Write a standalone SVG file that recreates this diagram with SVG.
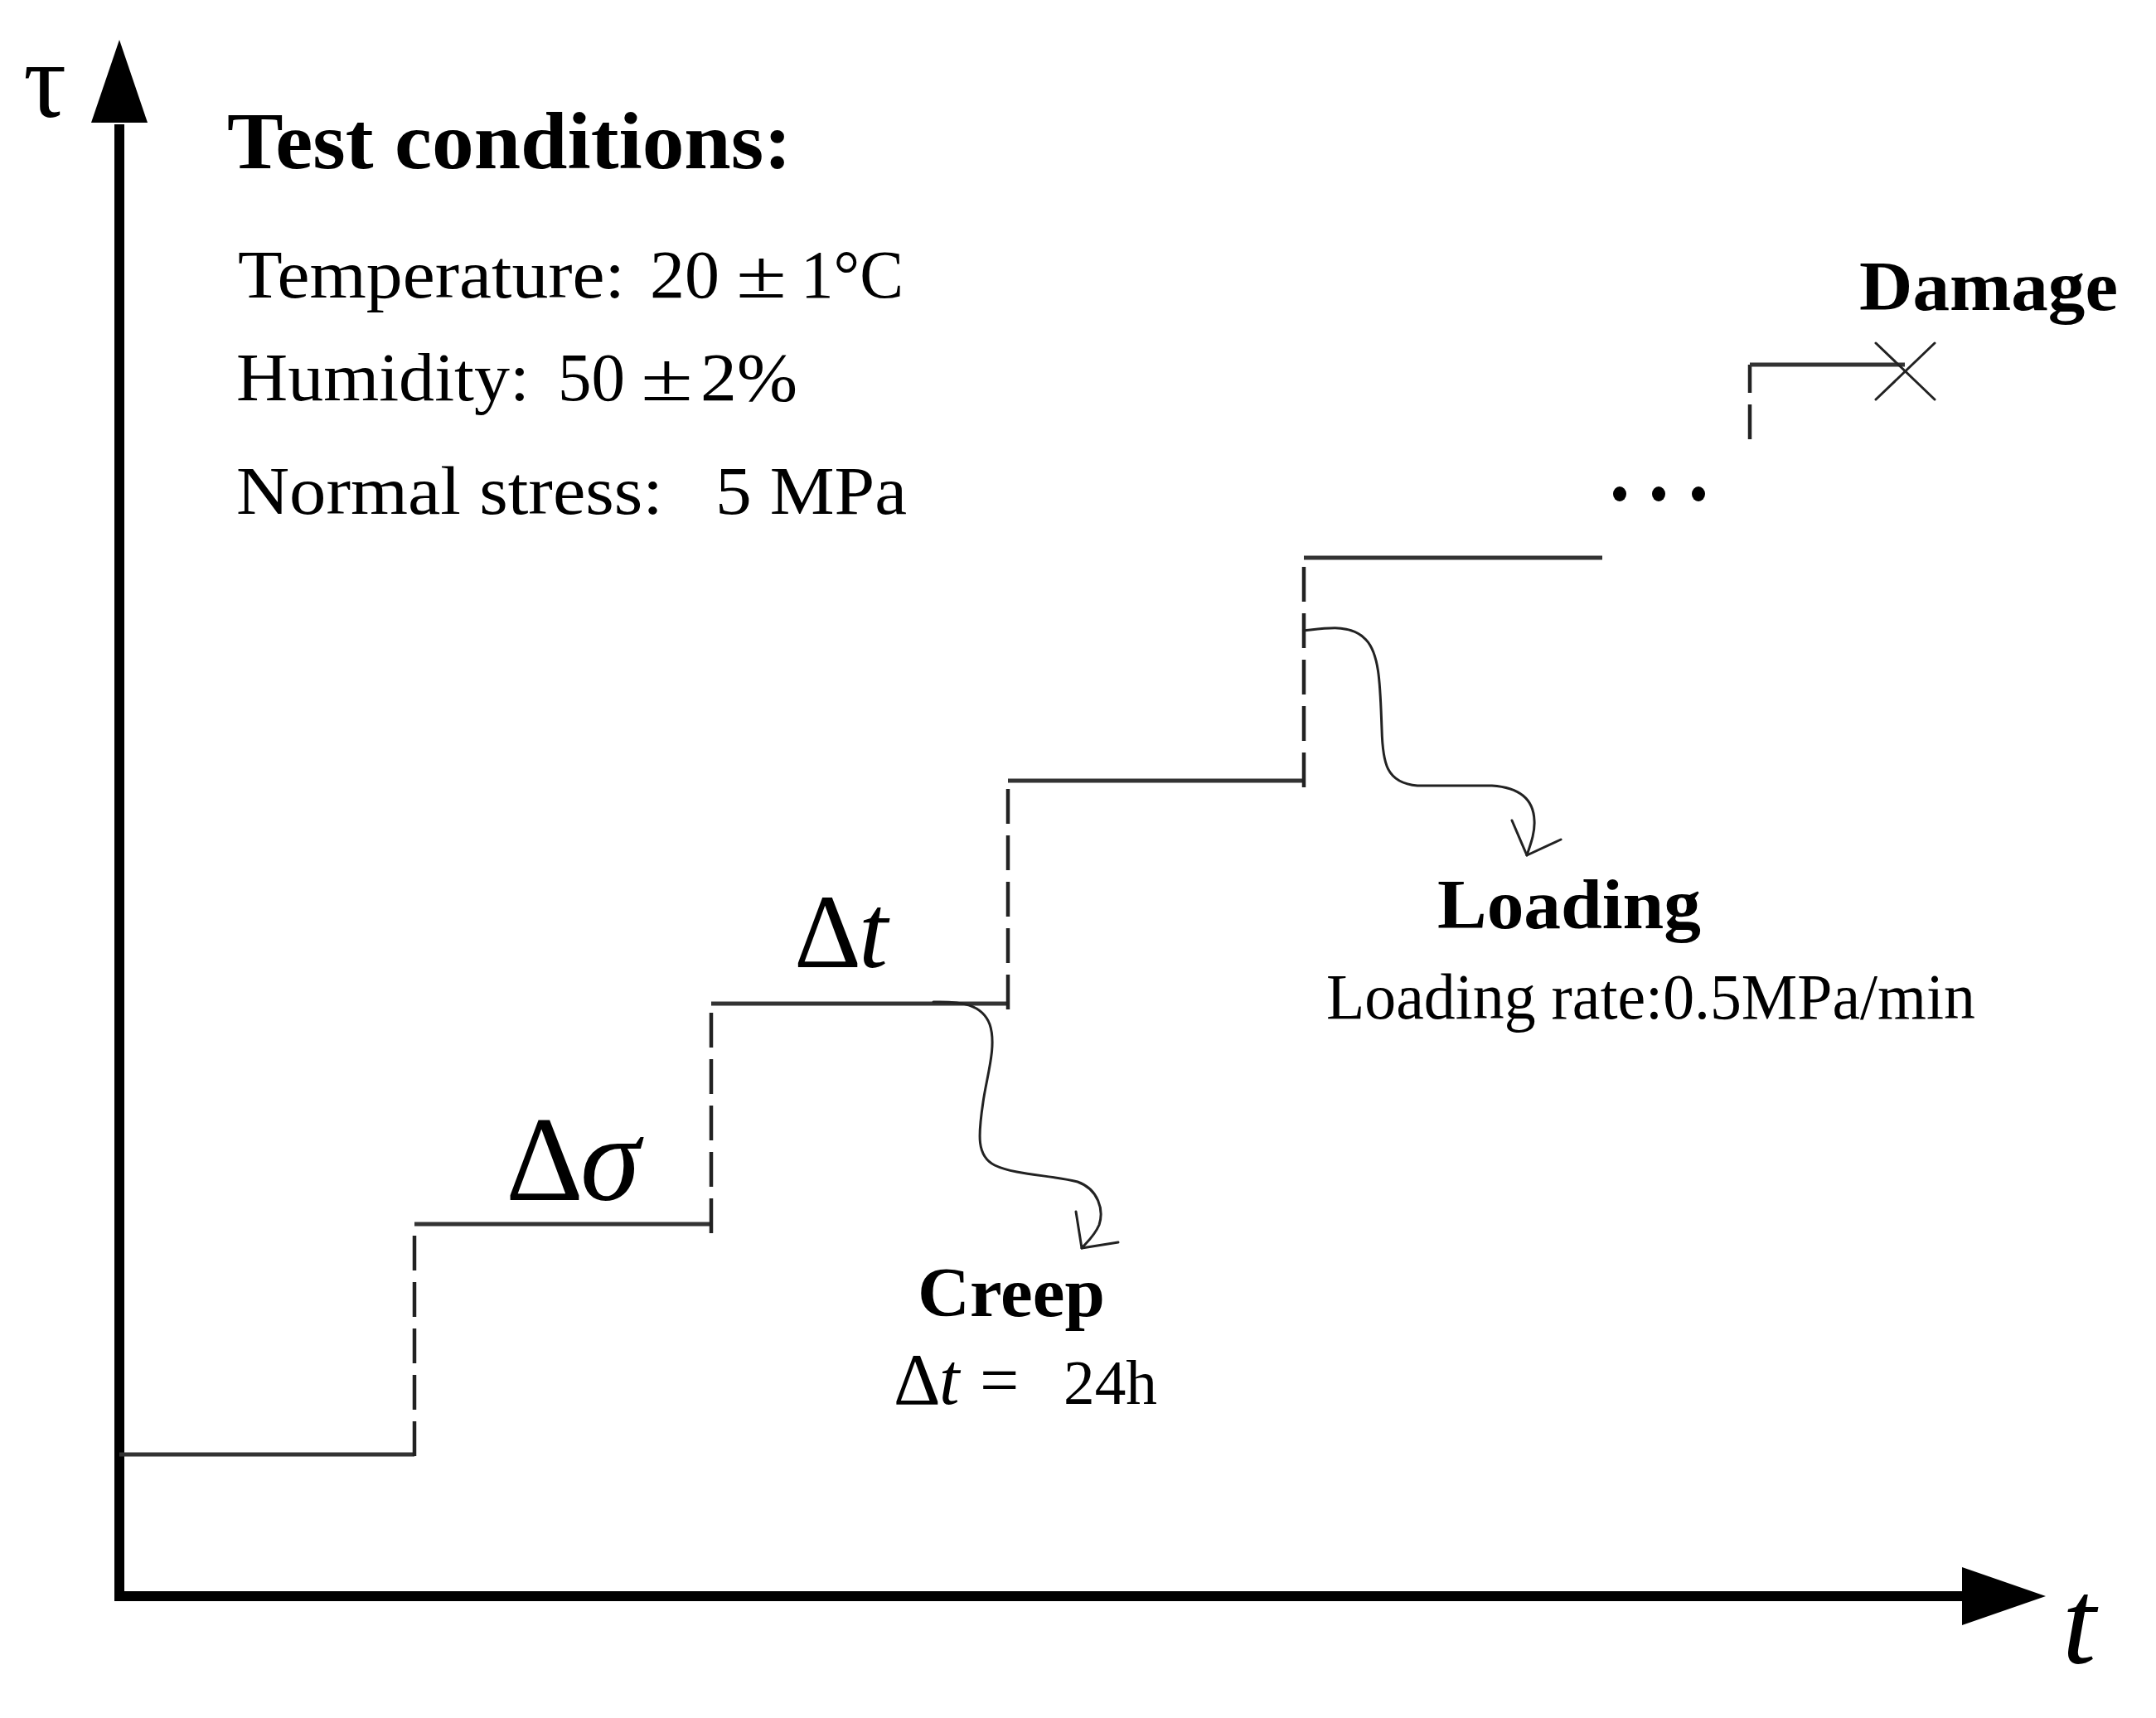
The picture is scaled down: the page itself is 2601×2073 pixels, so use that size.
<svg xmlns="http://www.w3.org/2000/svg" width="2601" height="2073" viewBox="0 0 2601 2073">
<style>
  .serif { font-family: "Liberation Serif", "Times New Roman", serif; fill: #000; }
  .bold { font-weight: bold; }
  .it { font-style: italic; }
  .step { fill: none; stroke: #333; stroke-width: 5; }
  .dash { fill: none; stroke: #222; stroke-width: 4.5; stroke-dasharray: 42 14; }
  .thin { fill: none; stroke: #222; stroke-width: 3; stroke-linecap: round; stroke-linejoin: round; }
</style>
<rect x="0" y="0" width="2601" height="2073" fill="#fff"/>

<g id="axes">
  <line x1="144" y1="150" x2="144" y2="1932" stroke="#000" stroke-width="12"/>
  <polygon points="144,48 110,148 178,148" fill="#000"/>
  <line x1="138" y1="1926" x2="2372" y2="1926" stroke="#000" stroke-width="12"/>
  <polygon points="2468,1926 2367,1891 2367,1961" fill="#000"/>
  <text class="serif" x="28" y="141" font-size="130">τ</text>
  <text class="serif it" x="2488" y="2007" font-size="146">t</text>
</g>

<g id="steps">
  <polyline class="step" points="144,1755 500,1755"/>
  <line class="dash" x1="500" y1="1757" x2="500" y2="1477"/>
  <polyline class="step" points="500,1477 858,1477"/>
  <line class="dash" x1="858" y1="1488" x2="858" y2="1211"/>
  <polyline class="step" points="858,1211 1216,1211"/>
  <line class="dash" x1="1216" y1="1218" x2="1216" y2="942"/>
  <polyline class="step" points="1216,942 1573,942"/>
  <line class="dash" x1="1573" y1="950" x2="1573" y2="673"/>
  <polyline class="step" points="1573,673 1933,673"/>
  <line class="dash" x1="2111" y1="530" x2="2111" y2="440"/>
  <polyline class="step" points="2111,440 2298,440"/>
  <g id="damage-mark">
    <line class="thin" x1="2263" y1="414" x2="2334" y2="482"/>
    <line class="thin" x1="2334" y1="414" x2="2263" y2="482"/>
  </g>
  <g id="ellipsis">
    <ellipse cx="1954" cy="596" rx="8" ry="9" fill="#000"/>
    <ellipse cx="2001" cy="596" rx="8" ry="9" fill="#000"/>
    <ellipse cx="2049" cy="596" rx="8" ry="9" fill="#000"/>
  </g>
</g>

<g id="connectors">
  <path class="thin" d="M1126,1209 C1160,1208 1185,1212 1194,1236 C1203,1262 1190,1300 1186,1330 C1180,1370 1178,1395 1200,1406 C1225,1418 1270,1418 1300,1426 C1325,1435 1332,1460 1326,1478 C1320,1492 1310,1500 1305,1506"/>
  <polyline class="thin" points="1298,1462 1305,1506 1349,1499"/>
  <path class="thin" d="M1573,761 C1600,758 1630,752 1648,772 C1665,790 1665,830 1667,880 C1668,920 1672,945 1710,948 L1800,948 C1830,950 1850,962 1851,990 C1852,1005 1846,1020 1842,1032"/>
  <polyline class="thin" points="1824,990 1842,1032 1883,1013"/>
</g>

<g id="conditions">
  <text class="serif bold" x="274" y="203" font-size="98" textLength="681" lengthAdjust="spacingAndGlyphs">Test conditions:</text>
  <text class="serif" y="359" font-size="82"><tspan x="287" textLength="467" lengthAdjust="spacingAndGlyphs">Temperature:</tspan><tspan x="784" textLength="84" lengthAdjust="spacingAndGlyphs">20</tspan><tspan x="888" textLength="61" lengthAdjust="spacingAndGlyphs">±</tspan><tspan x="966" textLength="124" lengthAdjust="spacingAndGlyphs">1°C</tspan></text>
  <text class="serif" y="483" font-size="82"><tspan x="285" textLength="354" lengthAdjust="spacingAndGlyphs">Humidity:</tspan><tspan x="673" textLength="81" lengthAdjust="spacingAndGlyphs">50</tspan><tspan x="773" textLength="63" lengthAdjust="spacingAndGlyphs">±</tspan><tspan x="845" textLength="117" lengthAdjust="spacingAndGlyphs">2%</tspan></text>
  <text class="serif" y="620" font-size="82"><tspan x="285" textLength="515" lengthAdjust="spacingAndGlyphs">Normal stress:</tspan><tspan x="863" textLength="231" lengthAdjust="spacingAndGlyphs">5 MPa</tspan></text>
</g>

<g id="label-dsigma">
  <text class="serif" y="1448" font-size="146"><tspan x="610">Δ</tspan><tspan class="it" x="700">σ</tspan></text>
</g>
<g id="label-dt">
  <text class="serif" y="1167" font-size="126"><tspan x="958">Δ</tspan><tspan class="it" x="1036">t</tspan></text>
</g>
<g id="label-creep">
  <text class="serif bold" x="1107" y="1588" font-size="85" textLength="226" lengthAdjust="spacingAndGlyphs">Creep</text>
  <text class="serif" y="1694" font-size="88"><tspan x="1078">Δ</tspan><tspan class="it" x="1133">t</tspan><tspan x="1182" font-size="84">=</tspan><tspan x="1283" font-size="76" textLength="113" lengthAdjust="spacingAndGlyphs">24h</tspan></text>
</g>
<g id="label-loading">
  <text class="serif bold" x="1734" y="1120" font-size="84" textLength="318" lengthAdjust="spacingAndGlyphs">Loading</text>
  <text class="serif" x="1600" y="1229" font-size="78" textLength="783" lengthAdjust="spacingAndGlyphs">Loading rate:0.5MPa/min</text>
</g>
<g id="label-damage">
  <text class="serif bold" x="2243" y="374" font-size="85" textLength="312" lengthAdjust="spacingAndGlyphs">Damage</text>
</g>
</svg>
